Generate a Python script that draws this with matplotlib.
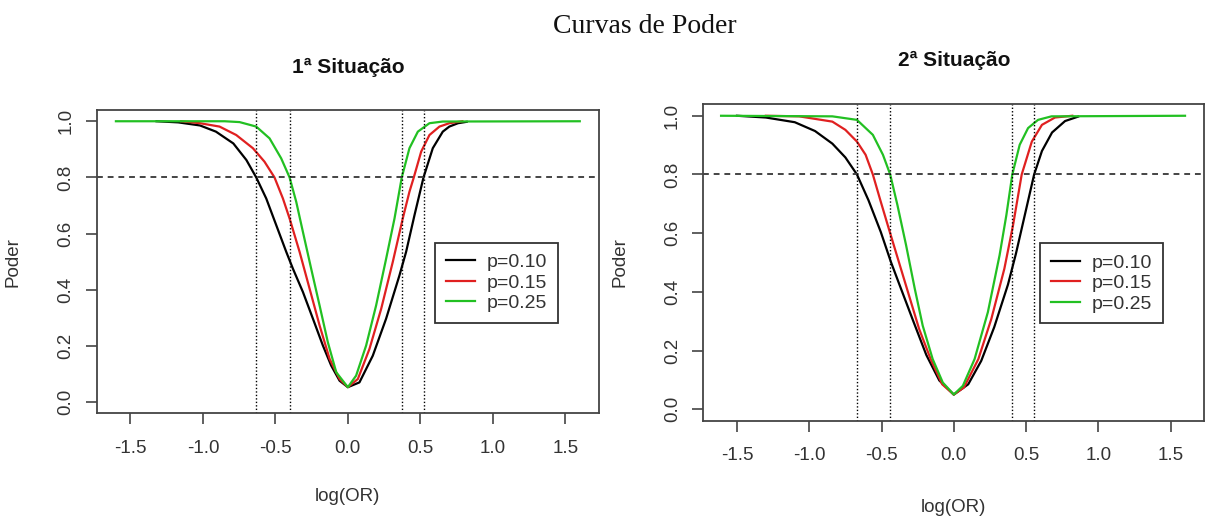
import matplotlib
matplotlib.use('Agg')
import matplotlib.pyplot as plt

# power curves, log(OR) vs power
# 1a situacao
s1_x_p10 = [-1.32, -1.17, -1.02, -0.91, -0.79, -0.70, -0.632, -0.563, -0.494, -0.425, -0.379, -0.31, -0.241,
            -0.172, -0.115, -0.057, 0.0, 0.08, 0.172, 0.264, 0.356, 0.402, 0.46, 0.522, 0.586, 0.655, 0.70,
            0.76, 0.82]
s1_y_p10 = [1.0, 0.996, 0.985, 0.963, 0.921, 0.862, 0.80, 0.725, 0.63, 0.535, 0.475, 0.392, 0.297,
            0.201, 0.13, 0.076, 0.053, 0.07, 0.165, 0.297, 0.451, 0.535, 0.666, 0.80, 0.904, 0.963, 0.981,
            0.993, 0.998]
s1_x_p15 = [-1.15, -1.02, -0.885, -0.77, -0.655, -0.575, -0.506, -0.448, -0.402, -0.333, -0.264, -0.195,
            -0.126, -0.057, 0.0, 0.069, 0.149, 0.23, 0.31, 0.379, 0.425, 0.455, 0.506, 0.563, 0.632, 0.70, 0.79]
s1_y_p15 = [1.0, 0.993, 0.981, 0.951, 0.904, 0.856, 0.80, 0.725, 0.654, 0.535, 0.404, 0.273,
            0.154, 0.082, 0.053, 0.082, 0.189, 0.332, 0.499, 0.654, 0.749, 0.80, 0.892, 0.951, 0.981, 0.993, 1.0]
s1_x_p25 = [-1.6, -0.85, -0.747, -0.632, -0.54, -0.46, -0.402, -0.356, -0.31, -0.253, -0.195, -0.138, -0.08,
            0.0, 0.057, 0.126, 0.195, 0.264, 0.322, 0.372, 0.425, 0.483, 0.563, 0.655, 1.6]
s1_y_p25 = [1.0, 1.0, 0.997, 0.981, 0.939, 0.868, 0.80, 0.713, 0.606, 0.475, 0.344, 0.213, 0.106,
            0.053, 0.094, 0.201, 0.344, 0.51, 0.654, 0.80, 0.904, 0.963, 0.993, 0.999, 1.0]
s1_vlines = [-0.632, -0.397, 0.372, 0.524]

# 2a situacao
s2_x_p10 = [-1.50, -1.30, -1.10, -0.96, -0.84, -0.75, -0.67, -0.59, -0.505, -0.435, -0.38, -0.28, -0.19,
            -0.10, 0.0, 0.10, 0.19, 0.28, 0.375, 0.43, 0.50, 0.556, 0.61, 0.68, 0.77, 0.86]
s2_y_p10 = [1.0, 0.994, 0.978, 0.948, 0.905, 0.858, 0.80, 0.712, 0.604, 0.502, 0.43, 0.30, 0.185,
            0.098, 0.05, 0.085, 0.165, 0.28, 0.425, 0.53, 0.68, 0.80, 0.88, 0.943, 0.982, 0.997]
s2_x_p15 = [-1.30, -1.07, -0.84, -0.75, -0.67, -0.61, -0.56, -0.505, -0.45, -0.38, -0.31, -0.24, -0.16,
            -0.08, 0.0, 0.07, 0.17, 0.26, 0.35, 0.41, 0.47, 0.54, 0.61, 0.70, 0.82]
s2_y_p15 = [1.0, 0.998, 0.980, 0.952, 0.912, 0.867, 0.80, 0.707, 0.616, 0.502, 0.388, 0.274, 0.171,
            0.085, 0.05, 0.074, 0.171, 0.308, 0.479, 0.627, 0.80, 0.912, 0.969, 0.994, 1.0]
s2_x_p25 = [-1.61, -0.84, -0.67, -0.56, -0.49, -0.44, -0.39, -0.33, -0.27, -0.215, -0.146, -0.076,
            0.0, 0.063, 0.144, 0.236, 0.317, 0.364, 0.405, 0.456, 0.514, 0.583, 0.676, 1.6]
s2_y_p25 = [1.0, 0.998, 0.986, 0.935, 0.867, 0.80, 0.696, 0.559, 0.411, 0.285, 0.171, 0.091,
            0.05, 0.080, 0.171, 0.331, 0.525, 0.662, 0.80, 0.901, 0.958, 0.986, 0.998, 1.0]
s2_vlines = [-0.669, -0.442, 0.405, 0.556]

labels = ['p=0.10', 'p=0.15', 'p=0.25']
colors = ['black', '#e02020', '#22c022']
x_ticks = [-1.5, -1.0, -0.5, 0.0, 0.5, 1.0, 1.5]
y_ticks = [0.0, 0.2, 0.4, 0.6, 0.8, 1.0]
titles = ['1ª Situação', '2ª Situação']

plt.rcParams['font.family'] = ['Liberation Sans', 'DejaVu Sans']
fig = plt.figure(figsize=(12.08, 5.17), dpi=100)

# axes boxes placed like the original (fig fractions)
ax1 = fig.add_axes([0.0800, 0.2006, 0.4159, 0.5866])
ax2 = fig.add_axes([0.5822, 0.1857, 0.4147, 0.6131])

panels = [
    (ax1, [(s1_x_p10, s1_y_p10), (s1_x_p15, s1_y_p15), (s1_x_p25, s1_y_p25)], s1_vlines, 0.6735, 0.5625),
    (ax2, [(s2_x_p10, s2_y_p10), (s2_x_p15, s2_y_p15), (s2_x_p25, s2_y_p25)], s2_vlines, 0.672, 0.5606),
]

for i, (ax, curves, vlines, lx, ly) in enumerate(panels):
    for (xs, ys), c, lab in zip(curves, colors, labels):
        ax.plot(xs, ys, color=c, lw=1.6, label=lab, solid_joinstyle='round')
    # reference lines
    ax.axhline(0.8, color='#444444', lw=1.4, linestyle=(0, (3, 2.5)))
    for v in vlines:
        ax.axvline(v, color='black', lw=1.0, linestyle=(0, (1, 1.5)))

    ax.set_xlim(-1.733, 1.733)
    ax.set_ylim(-0.04, 1.04)
    ax.set_xticks(x_ticks)
    ax.set_xticklabels(['%.1f' % t for t in x_ticks])
    ax.set_yticks(y_ticks)
    ax.set_yticklabels(['%.1f' % t for t in y_ticks], rotation=90, va='center')
    ax.tick_params(axis='x', length=8, width=1.2, color='#444444', labelsize=13.5, pad=11, labelcolor='#333333')
    ax.tick_params(axis='y', length=8, width=1.2, color='#444444', labelsize=13.5, pad=8, labelcolor='#333333')
    for sp in ax.spines.values():
        sp.set_color('#444444')
        sp.set_linewidth(1.3)

    ax.set_xlabel('log(OR)', fontsize=13.5, color='#333333')
    ax.set_ylabel('Poder', fontsize=13.5, color='#333333')
    ax.xaxis.set_label_coords(0.5, -0.245)
    ax.yaxis.set_label_coords(-0.149, 0.5)
    ax.text(0.5, 1.139, titles[i], transform=ax.transAxes, ha='center', va='center',
            fontsize=15, fontweight='bold', color='#111111')

    leg = ax.legend(loc='upper left', bbox_to_anchor=(lx, ly), borderaxespad=0, fontsize=14,
                    fancybox=False, framealpha=1, edgecolor='#333333', handlelength=1.5,
                    handletextpad=0.6, labelspacing=0.15, borderpad=0.55)
    leg.get_frame().set_linewidth(1.3)
    for t in leg.get_texts():
        t.set_color('#333333')

fig.text(0.534, 0.948, 'Curvas de Poder', ha='center', va='center', fontsize=20,
         family=['Liberation Serif', 'DejaVu Serif'], color='#111111')

plt.savefig('out.png', dpi=100)
